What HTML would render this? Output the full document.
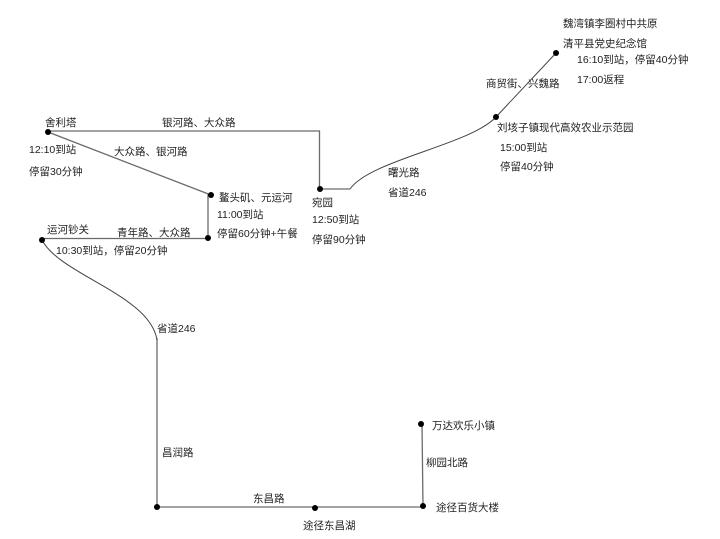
<!DOCTYPE html>
<html>
<head>
<meta charset="utf-8">
<style>
html,body{margin:0;padding:0;background:#fff;}
svg{display:block;}
text{font-family:"Liberation Sans","Noto Sans CJK SC",sans-serif;font-size:10.5px;fill:#222;dominant-baseline:central;}
</style>
</head>
<body>
<svg width="720" height="539" viewBox="0 0 720 539" xmlns="http://www.w3.org/2000/svg">
<g fill="none" stroke="#6a6a6a" stroke-width="1.3">
  <polyline points="48,131 319.5,131 319.5,189"/>
  <line x1="48" y1="132" x2="211" y2="195"/>
  <polyline points="211,195 208,195 208,238"/>
  <line x1="42" y1="238.5" x2="208" y2="238.5"/>
  <polyline points="157,338 157,507 423,507 422,424"/>
  <line x1="320" y1="189" x2="350" y2="189"/>
</g>
<g fill="none" stroke="#444" stroke-width="1">
  <path d="M42,240 C60,275 150,295 157,340"/>
  <path d="M350,189 C370,160 470,145 496,117"/>
  <line x1="496" y1="117" x2="556" y2="53"/>
</g>
<g fill="#000">
  <circle cx="48" cy="132" r="3"/>
  <circle cx="211" cy="195" r="3"/>
  <circle cx="208" cy="238" r="3"/>
  <circle cx="42" cy="240" r="3"/>
  <circle cx="320" cy="189" r="3"/>
  <circle cx="496" cy="117" r="3"/>
  <circle cx="556" cy="53" r="3"/>
  <circle cx="157" cy="507" r="3"/>
  <circle cx="315" cy="508" r="3"/>
  <circle cx="423" cy="506" r="3"/>
  <circle cx="421" cy="424" r="3"/>
</g>
<text x="45" y="123">舍利塔</text>
<text x="29" y="150">12:10到站</text>
<text x="29" y="172">停留30分钟</text>
<text x="162" y="123">银河路、大众路</text>
<text x="114" y="152">大众路、银河路</text>
<text x="219" y="198">鳌头矶、元运河</text>
<text x="217" y="215">11:00到站</text>
<text x="217" y="234">停留60分钟+午餐</text>
<text x="47" y="230">运河钞关</text>
<text x="117" y="233">青年路、大众路</text>
<text x="56" y="251">10:30到站，停留20分钟</text>
<text x="157" y="329">省道246</text>
<text x="312" y="203">宛园</text>
<text x="312" y="220">12:50到站</text>
<text x="312" y="240">停留90分钟</text>
<text x="388" y="173">曙光路</text>
<text x="388" y="193">省道246</text>
<text x="497" y="128">刘垓子镇现代高效农业示范园</text>
<text x="500" y="148">15:00到站</text>
<text x="500" y="167">停留40分钟</text>
<text x="486" y="84">商贸街、兴魏路</text>
<text x="563" y="24">魏湾镇李圈村中共原</text>
<text x="563" y="44">清平县党史纪念馆</text>
<text x="577" y="60">16:10到站，停留40分钟</text>
<text x="577" y="80">17:00返程</text>
<text x="162" y="453">昌润路</text>
<text x="253" y="499">东昌路</text>
<text x="303" y="526">途径东昌湖</text>
<text x="432" y="426">万达欢乐小镇</text>
<text x="426" y="463">柳园北路</text>
<text x="436" y="508">途径百货大楼</text>
</svg>
</body>
</html>
